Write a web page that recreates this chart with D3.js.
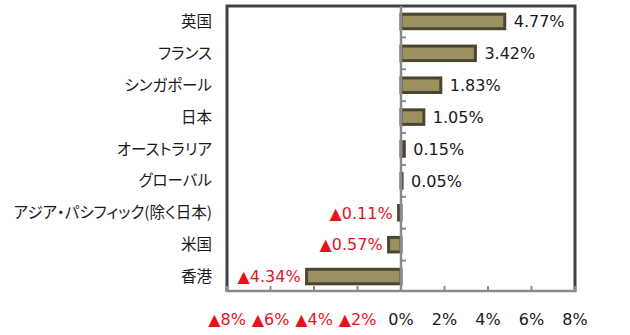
<!DOCTYPE html>
<html><head><meta charset="utf-8">
<script src="https://cdn.jsdelivr.net/npm/d3@7"></script>
<style>
html,body{margin:0;padding:0;background:#fff;}
svg{display:block;}
.cat{font-family:"Noto Sans CJK JP","Noto Sans",sans-serif;font-size:15.5px;fill:#1a1a1a;font-feature-settings:"palt";}
.num{font-family:"DejaVu Sans",sans-serif;font-size:16px;}
</style>
</head><body>
<svg id="c" width="630" height="335"></svg>
<script>
const categories = ["英国","フランス","シンガポール","日本","オーストラリア","グローバル","アジア・パシフィック(除く日本)","米国","香港"];
const values = [4.77, 3.42, 1.83, 1.05, 0.15, 0.05, -0.11, -0.57, -4.34];
const xTicks = [-8, -6, -4, -2, 0, 2, 4, 6, 8];

const svg = d3.select("#c");
const L = 227, R = 575, T = 6, B = 291;
const red = "#e8121c";

const x = d3.scaleLinear().domain([-8, 8]).range([L, R]);
const y = d3.scaleBand().domain(categories).range([T - 0.5, B + 1.5]).paddingInner(0.45).paddingOuter(0.225);

function fmt(v, suffix) {
  return (v < 0 ? "▲" : "") + suffix(Math.abs(v));
}

// frame (top, left, right)
svg.append("path")
  .attr("d", `M${L},${B} V${T} H${R} V${B}`)
  .attr("fill", "none").attr("stroke", "#404040").attr("stroke-width", 3);

// bars
const sw = 3;
svg.selectAll("rect.bar").data(values).join("rect")
  .attr("class", "bar")
  .attr("x", d => Math.min(x(0), x(d)))
  .attr("width", d => Math.abs(x(d) - x(0)))
  .attr("y", (d, i) => y(categories[i]) + sw / 2)
  .attr("height", y.bandwidth() - sw)
  .attr("fill", "#9b9060").attr("stroke", "#4b4631").attr("stroke-width", sw);

// zero (category) axis
const gy = svg.append("g").attr("transform", `translate(${x(0)},0)`);
gy.append("line").attr("x1", 0).attr("x2", 0).attr("y1", T).attr("y2", B)
  .attr("stroke", "#8a8a8a").attr("stroke-width", 2.5);
const step = y.step();
const y0 = y.range()[0];
const bounds = d3.range(1, categories.length).map(i => y0 + step * i);
gy.selectAll("line.ct").data(bounds).join("line")
  .attr("class", "ct").attr("x1", 0).attr("x2", 5)
  .attr("y1", d => d).attr("y2", d => d)
  .attr("stroke", "#8a8a8a").attr("stroke-width", 2);

// bottom value axis
const xAxis = d3.axisBottom(x).tickValues(xTicks).tickSize(0).tickFormat("");
const gx = svg.append("g").attr("transform", `translate(0,${B})`).call(xAxis);
gx.select(".domain").remove();
gx.append("line").attr("x1", L - 1.5).attr("x2", R + 1.5).attr("y1", 0).attr("y2", 0)
  .attr("stroke", "#8a8a8a").attr("stroke-width", 2.5);
gx.selectAll("line.xt").data(xTicks).join("line")
  .attr("class", "xt").attr("x1", d => x(d)).attr("x2", d => x(d))
  .attr("y1", -5).attr("y2", 0)
  .attr("stroke", "#8a8a8a").attr("stroke-width", 2);
svg.selectAll("text.xl").data(xTicks).join("text")
  .attr("class", "xl num")
  .attr("x", d => x(d)).attr("y", B + 28).attr("dy", "0.35em")
  .attr("text-anchor", "middle")
  .attr("fill", d => d < 0 ? red : "#1a1a1a")
  .text(d => fmt(d, a => a + "%"));

// category labels
svg.selectAll("text.cat").data(categories).join("text")
  .attr("class", "cat")
  .attr("x", 212).attr("y", d => y(d) + y.bandwidth() / 2).attr("dy", "0.36em")
  .attr("text-anchor", "end")
  .text(d => d);

// value labels
svg.selectAll("text.vl").data(values).join("text")
  .attr("class", "vl num")
  .attr("x", d => d >= 0 ? x(d) + 9 : x(d) - 6)
  .attr("y", (d, i) => y(categories[i]) + y.bandwidth() / 2).attr("dy", "0.36em")
  .attr("text-anchor", d => d >= 0 ? "start" : "end")
  .attr("fill", d => d < 0 ? red : "#1a1a1a")
  .text(d => fmt(d, a => a.toFixed(2) + "%"));
</script>
</body></html>
